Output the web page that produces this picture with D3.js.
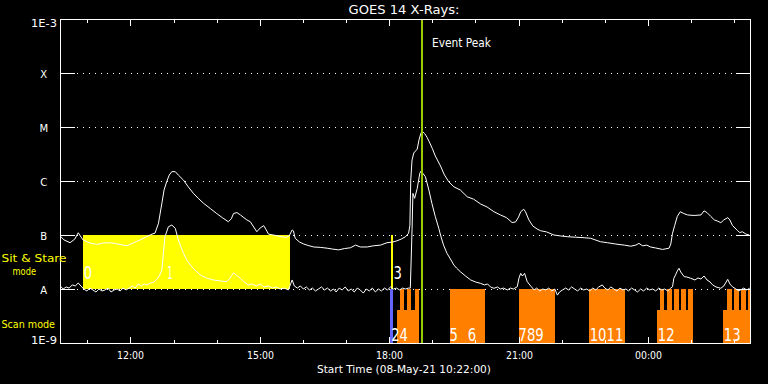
<!DOCTYPE html>
<html><head><meta charset="utf-8">
<script src="https://cdn.jsdelivr.net/npm/d3@7"></script>
<style>
html,body{margin:0;padding:0;background:#000;overflow:hidden}
svg{display:block}
text{font-family:"DejaVu Sans",sans-serif}
</style>
</head><body>
<svg id="chart" width="768" height="384"></svg>
<script>
// ---------------- DATA ----------------
const titleText = "GOES 14 X-Rays:";
const xAxisTitle = "Start Time (08-May-21 10:22:00)";
const startHour = 10 + 22/60;          // 08-May-21 10:22
const endHour = 26 + 22/60;            // 09-May-21 02:22
const yLevels = [1e-3, 1e-4, 1e-5, 1e-6, 1e-7, 1e-8, 1e-9];
const yLabels = ["1E-3", "X", "M", "C", "B", "A", "1E-9"];
const majorTickHours = [12, 15, 18, 21, 24];
const majorTickLabels = ["12:00", "15:00", "18:00", "21:00", "00:00"];
const minorTickHours = [11, 13, 14, 16, 17, 19, 20, 22, 23, 25, 26];

// hours since 08-May 00:00, flux (W/m^2) -- long channel (1-8 A)
const longChannel = [
[10.37,9.6e-8],[10.46,8.1e-8],[10.60,7.2e-8],[10.71,8.4e-8],[10.79,1.1e-7],[10.90,8.1e-8],
[11.06,7.1e-8],[11.22,6.7e-8],[11.37,7.1e-8],[11.53,7.2e-8],[11.71,6.8e-8],[11.92,6.3e-8],
[12.06,7.1e-8],[12.22,8.1e-8],[12.38,9.3e-8],[12.50,1.04e-7],[12.57,1.08e-7],[12.65,1.65e-7],
[12.73,3.9e-7],[12.78,6.8e-7],[12.84,9.7e-7],[12.90,1.29e-6],[12.96,1.49e-6],[13.04,1.49e-6],
[13.11,1.29e-6],[13.23,1.04e-6],[13.34,7.8e-7],[13.46,5.9e-7],[13.57,4.8e-7],[13.69,3.9e-7],
[13.85,3.1e-7],[14.00,2.5e-7],[14.13,2.1e-7],[14.27,1.76e-7],[14.34,2.0e-7],[14.39,2.5e-7],
[14.47,2.6e-7],[14.55,2.35e-7],[14.70,1.9e-7],[14.78,1.76e-7],[14.93,1.15e-7],[15.01,1.35e-7],
[15.09,1.49e-7],[15.15,1.24e-7],[15.20,1.04e-7],[15.32,1.0e-7],[15.47,9.4e-8],[15.61,9.0e-8],
[15.68,9.6e-8],[15.75,1.24e-7],[15.78,1.19e-7],[15.82,8.7e-8],[15.92,7.4e-8],[16.02,6.8e-8],
[16.12,6.4e-8],[16.25,6.0e-8],[16.40,5.9e-8],[16.56,5.7e-8],[16.68,5.5e-8],[16.83,5.3e-8],
[16.96,5.6e-8],[17.10,5.8e-8],[17.22,6.5e-8],[17.33,6.0e-8],[17.49,6.0e-8],[17.63,6.3e-8],
[17.80,6.5e-8],[17.95,7.2e-8],[18.08,7.4e-8],[18.18,7.8e-8],[18.28,8.4e-8],[18.38,9.3e-8],
[18.45,1.08e-7],[18.48,1.5e-7],[18.50,1.04e-6],[18.53,2.45e-6],[18.57,3.3e-6],[18.65,3.9e-6],
[18.69,5.7e-6],[18.73,7.4e-6],[18.76,8.4e-6],[18.82,7.6e-6],[18.88,6.4e-6],[18.93,5.3e-6],
[19.00,4.0e-6],[19.07,2.9e-6],[19.19,1.9e-6],[19.28,1.3e-6],[19.38,9.7e-7],[19.50,7.8e-7],
[19.65,6.8e-7],[19.81,5.1e-7],[19.96,4.6e-7],[20.12,3.75e-7],[20.27,3.3e-7],[20.43,2.7e-7],
[20.58,2.35e-7],[20.72,2.1e-7],[20.85,1.7e-7],[20.93,1.74e-7],[21.00,2.15e-7],[21.05,2.7e-7],
[21.12,3.0e-7],[21.16,2.7e-7],[21.24,1.9e-7],[21.33,1.47e-7],[21.43,1.29e-7],[21.51,1.2e-7],
[21.65,1.14e-7],[21.82,1.0e-7],[21.98,9.6e-8],[22.13,9.3e-8],[22.32,9.1e-8],[22.52,8.9e-8],
[22.67,8.7e-8],[22.90,7.5e-8],[23.06,7.2e-8],[23.25,6.8e-8],[23.45,6.5e-8],[23.60,6.2e-8],
[23.72,6.5e-8],[23.79,7.0e-8],[23.88,6.3e-8],[23.97,6.5e-8],[24.06,6.0e-8],[24.18,5.75e-8],
[24.34,5.4e-8],[24.49,5.7e-8],[24.53,6.8e-8],[24.57,1.08e-7],[24.62,1.5e-7],[24.68,2.2e-7],
[24.75,2.7e-7],[24.83,2.5e-7],[24.92,2.35e-7],[25.07,2.3e-7],[25.23,2.35e-7],[25.30,2.8e-7],
[25.37,2.6e-7],[25.46,2.2e-7],[25.54,1.9e-7],[25.62,1.8e-7],[25.69,1.69e-7],[25.76,1.9e-7],
[25.85,2.1e-7],[25.90,1.9e-7],[25.96,1.5e-7],[26.08,1.2e-7],[26.13,1.11e-7],[26.19,1.15e-7],
[26.27,1.04e-7],[26.35,1.0e-7]
];

// short channel (0.5-4 A)
const shortChannel = [
[10.37,1.14e-8],[10.44,1.0e-8],[10.51,1.09e-8],[10.58,1.04e-8],[10.65,1.19e-8],[10.72,1.14e-8],
[10.79,1.29e-8],[10.85,1.14e-8],[10.92,1.0e-8],[10.99,9.2e-9],[11.06,1.04e-8],[11.13,9.6e-9],
[11.20,8.8e-9],[11.27,1.0e-8],[11.34,9.2e-9],[11.41,9.6e-9],[11.48,1.04e-8],[11.55,8.8e-9],
[11.62,9.6e-9],[11.69,1.0e-8],[11.76,9.2e-9],[11.83,1.04e-8],[11.90,9.6e-9],[11.97,1.04e-8],
[12.04,1.14e-8],[12.11,1.04e-8],[12.18,1.24e-8],[12.25,1.14e-8],[12.32,1.24e-8],[12.39,1.19e-8],
[12.46,1.29e-8],[12.55,1.35e-8],[12.64,1.6e-8],[12.69,1.9e-8],[12.73,2.25e-8],[12.76,4.26e-8],
[12.80,9.3e-8],[12.88,1.42e-7],[12.96,1.53e-7],[13.04,1.33e-7],[13.11,8.1e-8],[13.23,4.58e-8],
[13.32,3.3e-8],[13.42,2.59e-8],[13.52,2.15e-8],[13.62,1.82e-8],[13.76,1.6e-8],[13.92,1.47e-8],
[14.08,1.41e-8],[14.24,1.37e-8],[14.31,1.6e-8],[14.39,2.0e-8],[14.45,1.82e-8],[14.55,1.58e-8],
[14.64,1.35e-8],[14.73,1.19e-8],[14.82,1.24e-8],[14.92,1.14e-8],[15.01,1.24e-8],[15.10,1.09e-8],
[15.20,1.14e-8],[15.29,1.04e-8],[15.38,1.09e-8],[15.47,1.0e-8],[15.57,1.04e-8],[15.66,9.6e-9],
[15.75,1.47e-8],[15.80,1.14e-8],[15.87,1.04e-8],[15.94,1.14e-8],[16.01,1.0e-8],[16.08,1.09e-8],
[16.15,9.6e-9],[16.22,1.04e-8],[16.29,9.2e-9],[16.36,1.0e-8],[16.43,1.09e-8],[16.50,9.6e-9],
[16.57,1.04e-8],[16.64,9.2e-9],[16.71,1.0e-8],[16.77,8.8e-9],[16.84,1.04e-8],[16.91,9.6e-9],
[16.98,1.09e-8],[17.05,9.2e-9],[17.12,1.0e-8],[17.19,8.8e-9],[17.26,1.04e-8],[17.33,9.6e-9],
[17.40,8.4e-9],[17.47,1.0e-8],[17.54,9.2e-9],[17.61,1.04e-8],[17.68,8.8e-9],[17.75,1.0e-8],
[17.82,9.2e-9],[17.89,1.04e-8],[17.96,9.6e-9],[18.03,1.09e-8],[18.10,1.0e-8],[18.17,1.04e-8],
[18.24,9.6e-9],[18.31,1.04e-8],[18.38,1.0e-8],[18.45,1.04e-8],[18.49,1.04e-8],[18.53,1.24e-7],
[18.55,5.9e-7],[18.59,4.78e-7],[18.65,7.3e-7],[18.71,1.39e-6],[18.74,1.53e-6],[18.79,1.35e-6],
[18.84,1.2e-6],[18.92,6.8e-7],[18.99,3.86e-7],[19.07,2.18e-7],[19.15,1.33e-7],[19.19,1.0e-7],
[19.26,6.5e-8],[19.34,4.58e-8],[19.42,3.59e-8],[19.50,2.78e-8],[19.56,2.45e-8],[19.65,2.09e-8],
[19.77,1.74e-8],[19.89,1.47e-8],[20.00,1.35e-8],[20.12,1.27e-8],[20.21,1.19e-8],[20.28,1.24e-8],
[20.35,1.09e-8],[20.43,1.03e-8],[20.51,1.09e-8],[20.58,1.0e-8],[20.65,1.04e-8],[20.74,9.6e-9],
[20.81,1.04e-8],[20.88,1.0e-8],[20.97,1.1e-8],[21.01,1.6e-8],[21.05,1.95e-8],[21.09,1.74e-8],
[21.14,1.95e-8],[21.20,1.37e-8],[21.28,1.14e-8],[21.36,9.6e-9],[21.42,1.04e-8],[21.49,9.2e-9],
[21.56,1.0e-8],[21.63,9.6e-9],[21.70,1.04e-8],[21.77,9.2e-9],[21.84,1.0e-8],[21.90,7.7e-9],
[21.95,8.8e-9],[22.02,9.6e-9],[22.09,1.04e-8],[22.16,9.6e-9],[22.23,1.09e-8],[22.30,1.0e-8],
[22.37,9.2e-9],[22.44,1.04e-8],[22.51,9.6e-9],[22.58,1.0e-8],[22.65,9.2e-9],[22.72,1.04e-8],
[22.79,9.6e-9],[22.86,1.09e-8],[22.94,1.19e-8],[23.00,1.04e-8],[23.07,9.6e-9],[23.14,1.09e-8],
[23.21,1.0e-8],[23.28,9.2e-9],[23.35,1.04e-8],[23.42,9.6e-9],[23.49,1.0e-8],[23.55,9.2e-9],
[23.62,1.04e-8],[23.69,9.6e-9],[23.76,8.8e-9],[23.83,1.0e-8],[23.90,9.2e-9],[23.97,1.04e-8],
[24.04,9.6e-9],[24.11,1.0e-8],[24.18,9.2e-9],[24.25,1.04e-8],[24.32,9.6e-9],[24.39,1.0e-8],
[24.46,9.2e-9],[24.53,1.04e-8],[24.57,1.1e-8],[24.60,1.58e-8],[24.64,1.82e-8],[24.68,2.15e-8],
[24.72,2.42e-8],[24.76,2.07e-8],[24.84,1.69e-8],[24.90,1.67e-8],[24.99,1.58e-8],[25.09,1.47e-8],
[25.16,1.6e-8],[25.23,1.53e-8],[25.30,1.74e-8],[25.37,1.47e-8],[25.44,1.35e-8],[25.50,1.19e-8],
[25.58,1.09e-8],[25.69,1.03e-8],[25.76,1.14e-8],[25.85,1.51e-8],[25.90,1.24e-8],[25.96,1.1e-8],
[26.04,1.0e-8],[26.11,9.2e-9],[26.15,9.6e-9],[26.22,1.04e-8],[26.29,9.6e-9],[26.36,1.04e-8]
];

// observing-mode intervals (hours), with the band levels they span
const sitStareBand = [1e-7, 1e-8];
const scanBand = [1e-8, 1e-9];
const scanPartialTop = 4.1e-9;
const sitStareIntervals = [[10.90, 15.71]];
const sitStareLines = [18.07];
const scanLines = [18.05];
const scanFullIntervals = [
  [18.26,18.34],[18.42,18.51],[18.59,18.69],[19.40,20.23],[21.00,21.84],[22.63,23.46],
  [24.28,24.37],[24.44,24.55],[24.61,24.71],[24.76,24.88],[24.94,25.04],
  [25.83,25.95],[26.00,26.12],[26.16,26.27],[26.31,26.40]
];
const scanPartialIntervals = [[18.17,18.69],[24.20,25.04],[25.75,26.40]];
// event numbers as printed (adjacent numbers run together in the chart)
const sitStareEvents = [["0",10.92],["1",12.86],["3",18.10]];
const scanEvents = [["24",18.045],["5",19.40],["6",19.82],["789",21.00],["1011",22.65],
  ["12",24.23],["13",25.76]];
const eventPeakHour = 18.765;
const eventPeakLabel = "Event Peak";
const modeLabels = ["Sit & Stare", "mode", "Scan mode"];

// ---------------- DRAW ----------------
const svg = d3.select("#chart");
const W = 768, H = 384;
const L = 60, R = 750, T = 19, B = 343;
const base = Date.UTC(2021, 4, 8);
const toDate = h => new Date(base + h * 3600000);

svg.append("rect").attr("width", W).attr("height", H).attr("fill", "#000");

const x = d3.scaleUtc().domain([toDate(startHour), toDate(endHour)]).range([L, R]);
const y = d3.scaleLog().domain([1e-9, 1e-3]).range([B, T]);
const px = v => Math.round(x(toDate(v)));
const py = v => Math.round(y(v));

// dotted grid
const grid = svg.append("g");
yLevels.slice(1, -1).forEach(v => {
  grid.append("line").attr("x1", 65).attr("x2", R)
    .attr("y1", py(v) + 0.5).attr("y2", py(v) + 0.5)
    .attr("stroke", "#fff").attr("stroke-width", 1)
    .attr("stroke-dasharray", "1 5").attr("shape-rendering", "crispEdges");
});

// sit & stare (yellow) band
const marks = svg.append("g").attr("shape-rendering", "crispEdges");
marks.selectAll("rect.ss").data(sitStareIntervals).join("rect")
  .attr("x", d => px(d[0])).attr("width", d => px(d[1]) - px(d[0]))
  .attr("y", py(sitStareBand[0])).attr("height", py(sitStareBand[1]) - py(sitStareBand[0]))
  .attr("fill", "#ffff00");

// scan mode (orange) blocks
marks.selectAll("rect.sp").data(scanPartialIntervals).join("rect")
  .attr("x", d => px(d[0])).attr("width", d => Math.min(px(d[1]), R) - px(d[0]))
  .attr("y", py(scanPartialTop)).attr("height", py(scanBand[1]) - py(scanPartialTop))
  .attr("fill", "#ff8000");
marks.selectAll("rect.sf").data(scanFullIntervals).join("rect")
  .attr("x", d => px(d[0])).attr("width", d => Math.min(px(d[1]), R) - px(d[0]))
  .attr("y", py(scanBand[0])).attr("height", py(scanBand[1]) - py(scanBand[0]))
  .attr("fill", "#ff8000");

// event lines
marks.selectAll("rect.sl").data(scanLines).join("rect")
  .attr("x", d => px(d) - 1).attr("width", 3)
  .attr("y", py(scanBand[0])).attr("height", py(scanBand[1]) - py(scanBand[0]))
  .attr("fill", "#6464ff");
marks.selectAll("rect.yl").data(sitStareLines).join("rect")
  .attr("x", d => px(d) - 1).attr("width", 2)
  .attr("y", py(sitStareBand[0])).attr("height", py(sitStareBand[1]) - py(sitStareBand[0]))
  .attr("fill", "#ffff00");

// curves
const line = d3.line().x(d => x(toDate(d[0]))).y(d => y(d[1]));
svg.append("path").datum(longChannel).attr("d", line)
  .attr("fill", "none").attr("stroke", "#fff").attr("stroke-width", 1);
svg.append("path").datum(shortChannel).attr("d", line)
  .attr("fill", "none").attr("stroke", "#fff").attr("stroke-width", 1);

// event peak line
svg.append("rect").attr("x", px(eventPeakHour) - 1).attr("width", 2)
  .attr("y", T).attr("height", B - T).attr("fill", "#99cc00")
  .attr("shape-rendering", "crispEdges");

// frame and ticks
const axes = svg.append("g").attr("stroke", "#fff").attr("stroke-width", 1)
  .attr("shape-rendering", "crispEdges");
axes.append("rect").attr("x", L + 0.5).attr("y", T + 0.5)
  .attr("width", R - L).attr("height", B - T).attr("fill", "none");
yLevels.forEach(v => {
  const yy = py(v) + 0.5;
  axes.append("line").attr("x1", L).attr("x2", L + 15).attr("y1", yy).attr("y2", yy);
  axes.append("line").attr("x1", R - 14).attr("x2", R + 1).attr("y1", yy).attr("y2", yy);
});
majorTickHours.forEach(h => {
  const xx = px(h) + 0.5;
  axes.append("line").attr("x1", xx).attr("x2", xx).attr("y1", T).attr("y2", T + 7);
  axes.append("line").attr("x1", xx).attr("x2", xx).attr("y1", B + 1).attr("y2", B - 6);
});
minorTickHours.forEach(h => {
  const xx = px(h) + 0.5;
  axes.append("line").attr("x1", xx).attr("x2", xx).attr("y1", T).attr("y2", T + 4);
  axes.append("line").attr("x1", xx).attr("x2", xx).attr("y1", B + 1).attr("y2", B - 3);
});

// texts
const txt = svg.append("g").attr("fill", "#fff");
txt.append("text").attr("x", 404).attr("y", 13.5).attr("text-anchor", "middle")
  .attr("font-size", 12).attr("textLength", 111).attr("lengthAdjust", "spacingAndGlyphs")
  .text(titleText);
yLevels.forEach((v, i) => {
  const lab = yLabels[i];
  const t = txt.append("text").attr("font-size", 10);
  if (lab.length > 1) {
    const base = i === 0 ? py(v) + 8 : py(v) + 0.5;
    t.attr("x", 57).attr("y", base).attr("text-anchor", "end")
      .attr("textLength", 26).attr("lengthAdjust", "spacingAndGlyphs");
  } else {
    t.attr("x", 43.7).attr("y", py(v) + 4.5).attr("text-anchor", "middle");
  }
  t.text(lab);
});
majorTickHours.forEach((h, i) => {
  txt.append("text").attr("x", px(h) + 0.5).attr("y", 358.5).attr("text-anchor", "middle")
    .attr("font-size", 10).attr("textLength", 27).attr("lengthAdjust", "spacingAndGlyphs")
    .text(majorTickLabels[i]);
});
txt.append("text").attr("x", 404).attr("y", 373).attr("text-anchor", "middle")
  .attr("font-size", 10).attr("textLength", 174).attr("lengthAdjust", "spacingAndGlyphs")
  .text(xAxisTitle);
txt.append("text").attr("x", px(eventPeakHour) + 10).attr("y", 47.3)
  .attr("font-size", 12).attr("textLength", 59).attr("lengthAdjust", "spacingAndGlyphs")
  .text(eventPeakLabel);

const ylab = svg.append("g").attr("fill", "#ffff00");
ylab.append("text").attr("x", 1.5).attr("y", 262).attr("font-size", 11)
  .attr("textLength", 65).attr("lengthAdjust", "spacingAndGlyphs").text(modeLabels[0]);
ylab.append("text").attr("x", 12.5).attr("y", 275).attr("font-size", 11)
  .attr("textLength", 23.5).attr("lengthAdjust", "spacingAndGlyphs").text(modeLabels[1]);
ylab.append("text").attr("x", 1.5).attr("y", 328).attr("font-size", 11)
  .attr("textLength", 53.5).attr("lengthAdjust", "spacingAndGlyphs").text(modeLabels[2]);

const digitW = 8.4;
sitStareEvents.forEach(([id, h]) => {
  txt.append("text").attr("x", x(toDate(h))).attr("y", 278.5).attr("font-size", 17)
    .attr("textLength", id === "1" ? 5 : digitW * id.length).attr("lengthAdjust", "spacingAndGlyphs")
    .text(id);
});
scanEvents.forEach(([id, h]) => {
  txt.append("text").attr("x", x(toDate(h))).attr("y", 340.5).attr("font-size", 17)
    .attr("textLength", id.length * digitW).attr("lengthAdjust", "spacingAndGlyphs")
    .text(id);
});
</script>
</body></html>
